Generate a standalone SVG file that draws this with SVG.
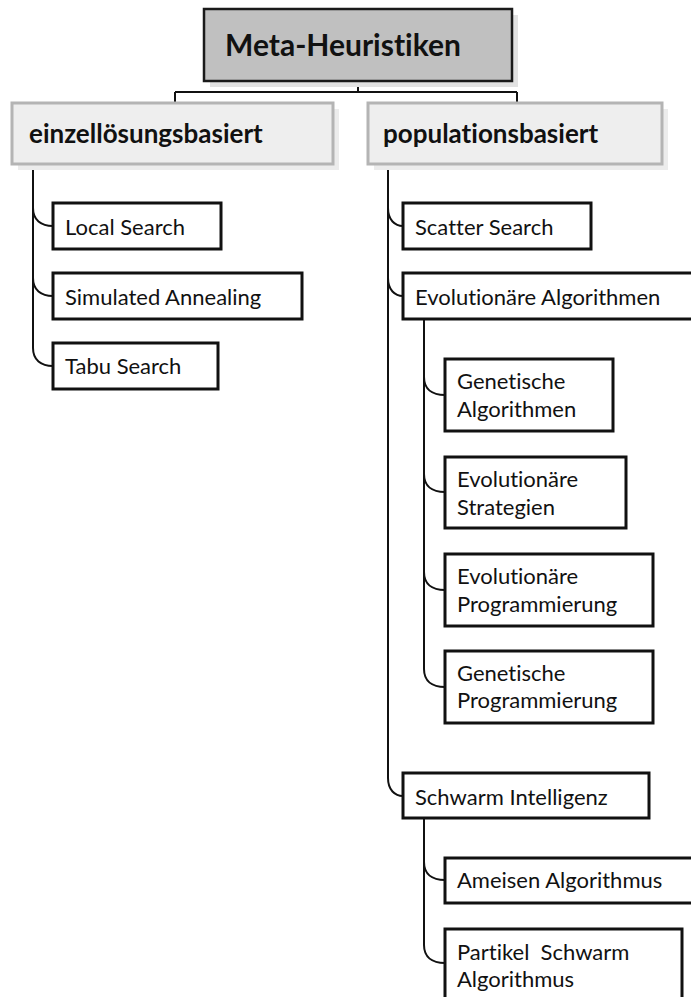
<svg xmlns="http://www.w3.org/2000/svg" width="691" height="997" viewBox="0 0 691 997">
<style>
  .t { font-family: Lato, "Liberation Sans", sans-serif; fill: #111; font-variant-ligatures: none; font-feature-settings: "liga" 0, "clig" 0; }
  .b { font-weight: bold; }
  .top { fill: #c0c0c0; stroke: #1a1a1a; stroke-width: 2.5; }
  .lvl { fill: #eeeeee; stroke: #b4b4b4; stroke-width: 3; }
  .sh1 { fill: #e2e2e2; }
  .sh2 { fill: #ececec; }
  .leaf { fill: #ffffff; stroke: #111; stroke-width: 3; }
  .c { fill: none; stroke: #111; stroke-width: 2; }
  .s { font-size: 22px; }
</style>
<rect width="691" height="997" fill="#ffffff"/>
<g id="connectors">
  <path class="c" d="M358,81 V92 M175,92 H517 M175,92 V103 M517,92 V103"/>
  <path class="c" d="M33,164 V348"/>
  <path class="c" d="M33,208 C33,220 41,226 53,226 M33,278 C33,290 41,296 53,296 M33,348 C33,360 41,366 53,366"/>
  <path class="c" d="M388,164 V778"/>
  <path class="c" d="M388,208 C388,220 395,226 403,226 M388,278 C388,290 395,296 403,296 M388,778 C388,790 395,796 403,796"/>
  <path class="c" d="M424,319 V669"/>
  <path class="c" d="M424,377 C424,389 432,395 445,395 M424,474 C424,486 432,492 445,492 M424,572 C424,584 432,590 445,590 M424,669 C424,681 432,687 445,687"/>
  <path class="c" d="M424,818 V945"/>
  <path class="c" d="M424,862 C424,874 432,880 445,880 M424,945 C424,957 432,963 445,963"/>
</g>
<g id="meta">
  <rect class="sh1" x="210" y="15" width="308" height="72"/>
  <rect class="top" x="204" y="9" width="308" height="72"/>
  <text class="t b" x="225" y="56" font-size="30">Meta-Heuristiken</text>
</g>
<g id="einzel">
  <rect class="sh2" x="18" y="109" width="321" height="61"/>
  <rect class="lvl" x="12" y="103" width="321" height="61"/>
  <text class="t b" x="29" y="143" font-size="26">einzellösungsbasiert</text>
</g>
<g id="population">
  <rect class="sh2" x="374" y="109" width="294" height="61"/>
  <rect class="lvl" x="368" y="103" width="294" height="61"/>
  <text class="t b" x="383" y="143" font-size="26">populationsbasiert</text>
</g>
<g id="local">
  <rect class="leaf" x="53" y="203" width="168" height="46"/>
  <text class="t s" x="65" y="235">Local Search</text>
</g>
<g id="annealing">
  <rect class="leaf" x="53" y="273" width="249" height="46"/>
  <text class="t s" x="65" y="305">Simulated Annealing</text>
</g>
<g id="tabu">
  <rect class="leaf" x="53" y="343" width="165" height="46"/>
  <text class="t s" x="65" y="374">Tabu Search</text>
</g>
<g id="scatter">
  <rect class="leaf" x="403" y="203" width="188" height="46"/>
  <text class="t s" x="415" y="235">Scatter Search</text>
</g>
<g id="evo">
  <rect class="leaf" x="403" y="273" width="300" height="46"/>
  <text class="t s" x="415" y="305">Evolutionäre Algorithmen</text>
</g>
<g id="genalg">
  <rect class="leaf" x="445" y="359" width="168" height="72"/>
  <text class="t s" x="457" y="389">Genetische</text>
  <text class="t s" x="457" y="417">Algorithmen</text>
</g>
<g id="evostrat">
  <rect class="leaf" x="445" y="457" width="181" height="71"/>
  <text class="t s" x="457" y="487">Evolutionäre</text>
  <text class="t s" x="457" y="515">Strategien</text>
</g>
<g id="evoprog">
  <rect class="leaf" x="445" y="554" width="208" height="72"/>
  <text class="t s" x="457" y="584">Evolutionäre</text>
  <text class="t s" x="457" y="612">Programmierung</text>
</g>
<g id="genprog">
  <rect class="leaf" x="445" y="651" width="208" height="72"/>
  <text class="t s" x="457" y="681">Genetische</text>
  <text class="t s" x="457" y="708">Programmierung</text>
</g>
<g id="schwarm">
  <rect class="leaf" x="403" y="773" width="246" height="45"/>
  <text class="t s" x="415" y="805">Schwarm Intelligenz</text>
</g>
<g id="ameisen">
  <rect class="leaf" x="445" y="858" width="260" height="45"/>
  <text class="t s" x="457" y="888">Ameisen Algorithmus</text>
</g>
<g id="partikel">
  <rect class="leaf" x="445" y="929" width="237" height="80"/>
  <text class="t s" x="457" y="960" xml:space="preserve">Partikel  Schwarm</text>
  <text class="t s" x="457" y="987">Algorithmus</text>
</g>
</svg>
